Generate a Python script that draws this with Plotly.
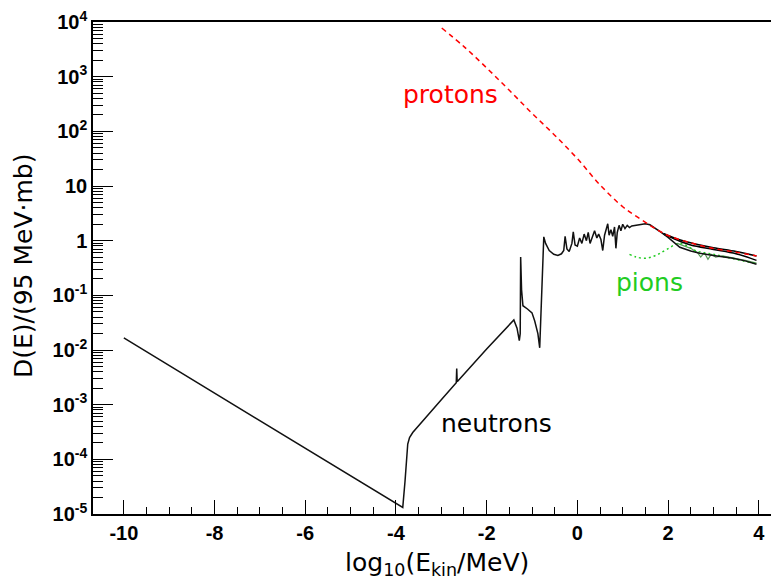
import plotly.graph_objects as go

# ---------------- data (y given as log10 values) ----------------
neutron_x = [-10.0, -3.88, -3.85, -3.80, -3.77, -3.74, -3.70, -3.63, -3.0, -2.67, -2.66, -2.65,
             -2.0, -1.6, -1.45, -1.40, -1.33, -1.28, -1.26, -1.25, -1.23, -1.20, -1.10, -1.00,
             -0.94, -0.87, -0.83, -0.78, -0.74, -0.70, -0.62, -0.52, -0.43, -0.35, -0.30, -0.27,
             -0.23, -0.18, -0.12, -0.09, -0.05, 0.00, 0.05, 0.10, 0.15, 0.20, 0.24, 0.28, 0.33,
             0.38, 0.43, 0.47, 0.52, 0.56, 0.60, 0.64, 0.67, 0.70, 0.74, 0.78, 0.82, 0.85, 0.88,
             0.92, 0.96, 1.00, 1.05, 1.10, 1.15, 1.20, 1.30, 1.40, 1.50, 1.60, 1.70, 1.85, 2.00,
             2.26, 2.50, 2.70, 3.00, 3.43, 3.70, 3.95]
neutron_log10 = [-1.78, -4.85, -4.88, -4.40, -3.95, -3.72, -3.60, -3.51, -2.91, -2.60, -2.34, -2.58,
                 -1.98, -1.62, -1.50, -1.45, -1.60, -1.83, -1.70, -0.30, -0.90, -1.19, -1.25, -1.32,
                 -1.47, -1.70, -1.96, -0.87, 0.07, -0.05, -0.18, -0.25, -0.27, -0.24, -0.18, 0.08,
                 -0.15, -0.20, -0.05, 0.16, -0.08, -0.10, 0.05, -0.05, 0.12, 0.00, 0.15, -0.05, 0.05,
                 0.18, 0.05, 0.12, 0.02, -0.18, 0.10, 0.22, 0.31, 0.10, 0.20, 0.08, 0.25, -0.14, 0.15,
                 0.28, 0.18, 0.30, 0.22, 0.28, 0.24, 0.27, 0.28, 0.30, 0.31, 0.29, 0.24, 0.15, 0.06,
                 -0.12, -0.19, -0.23, -0.27, -0.32, -0.37, -0.43]

neutron2_x = [1.90, 2.20, 2.50, 3.00, 3.50, 3.95]
neutron2_log10 = [0.12, 0.01, -0.08, -0.16, -0.24, -0.36]

neutron3_x = [1.90, 2.20, 2.60, 3.00, 3.50, 3.95]
neutron3_log10 = [0.13, 0.03, -0.06, -0.13, -0.20, -0.28]

proton_x = [-2.99, -2.5, -2.0, -1.5, -1.0, -0.5, 0.0, 0.5, 1.0, 1.27, 1.55, 1.8, 2.04, 2.5, 2.92, 3.5, 3.95]
proton_log10 = [3.89, 3.55, 3.16, 2.75, 2.33, 1.93, 1.50, 1.02, 0.62, 0.46, 0.31, 0.18, 0.08, -0.04, -0.13, -0.21, -0.28]

pion_x = [1.15, 1.30, 1.53, 1.75, 1.97, 2.26, 2.63, 3.00, 3.43, 3.95]
pion_log10 = [-0.25, -0.30, -0.32, -0.26, -0.16, -0.05, -0.19, -0.25, -0.33, -0.42]

pion2_x = [2.20, 2.50, 2.65, 2.72, 2.80, 2.88, 2.95, 3.05, 3.20, 3.40, 3.70, 3.95]
pion2_log10 = [-0.05, -0.14, -0.22, -0.30, -0.22, -0.34, -0.25, -0.30, -0.28, -0.31, -0.36, -0.41]

x_ticks = [-10, -8, -6, -4, -2, 0, 2, 4]
x_ticktext = ["-10", "-8", "-6", "-4", "-2", "0", "2", "4"]
y_decades = [-5, -4, -3, -2, -1, 0, 1, 2, 3, 4]
y_ticktext = ["10<sup>-5</sup>", "10<sup>-4</sup>", "10<sup>-3</sup>", "10<sup>-2</sup>",
              "10<sup>-1</sup>", "1", "10", "10<sup>2</sup>", "10<sup>3</sup>", "10<sup>4</sup>"]


def lin(vals):
    return [10 ** v for v in vals]


fig = go.Figure()
fig.add_trace(go.Scatter(x=pion2_x, y=lin(pion2_log10), mode="lines",
                         line=dict(color="#5a9a5a", width=1.2), hoverinfo="skip"))
fig.add_trace(go.Scatter(x=pion_x, y=lin(pion_log10), mode="lines", line_shape="spline",
                         line=dict(color="#22cc22", width=1.5, dash="2px,3px")))
fig.add_trace(go.Scatter(x=neutron2_x, y=lin(neutron2_log10), mode="lines", line_shape="spline",
                         line=dict(color="black", width=1.5)))
fig.add_trace(go.Scatter(x=neutron3_x, y=lin(neutron3_log10), mode="lines", line_shape="spline",
                         line=dict(color="black", width=1.5)))
fig.add_trace(go.Scatter(x=neutron_x, y=lin(neutron_log10), mode="lines",
                         line=dict(color="#111111", width=1.5)))
fig.add_trace(go.Scatter(x=proton_x, y=lin(proton_log10), mode="lines", line_shape="spline",
                         line=dict(color="#ff0000", width=1.5, dash="5px,4px")))

label_font = dict(family="DejaVu Sans", size=25)
fig.add_annotation(x=-2.79, y=2.67, text="protons", showarrow=False,
                   font=dict(label_font, color="#ff0000"))
fig.add_annotation(x=1.60, y=-0.76, text="pions", showarrow=False,
                   font=dict(label_font, color="#22cc22"))
fig.add_annotation(x=-1.78, y=-3.34, text="neutrons", showarrow=False,
                   font=dict(label_font, color="black"))
# axis titles placed as annotations to match the reference position
fig.add_annotation(xref="paper", yref="paper", x=-0.1032, y=0.504, xanchor="center",
                   yanchor="middle", text="D(E)/(95 MeV·mb)", textangle=-90, showarrow=False,
                   font=dict(family="DejaVu Sans", size=25, color="black"))
fig.add_annotation(xref="paper", yref="paper", x=0.507, y=-0.101, xanchor="center",
                   yanchor="middle", text="log<sub>10</sub>(E<sub>kin</sub>/MeV)", showarrow=False,
                   font=dict(family="DejaVu Sans", size=25, color="black"))

x_minor = [v + 0.5 * k for v in x_ticks for k in (1, 2, 3)]
y_minor = [m * 10 ** d for d in y_decades[:-1] for m in range(2, 10)]

tickfont = dict(family="Liberation Sans", size=20, color="black")

fig.update_layout(
    width=779, height=583,
    margin=dict(l=93, r=8, t=20, b=69),
    paper_bgcolor="white", plot_bgcolor="white",
    showlegend=False,
    xaxis=dict(
        range=[-10.68, 4.27], tickmode="array", tickvals=x_ticks,
        ticktext=["<b>%s</b>" % t for t in x_ticktext],
        ticks="inside", ticklen=14, tickwidth=1.2, tickcolor="black",
        showline=True, linecolor="black", linewidth=1.5, mirror=True,
        showgrid=False, zeroline=False, tickfont=tickfont,
        minor=dict(tickvals=x_minor, ticks="inside", ticklen=7, tickwidth=1.2,
                   tickcolor="black", showgrid=False),
    ),
    yaxis=dict(
        type="log", range=[-5, 4], tickmode="array",
        tickvals=[10 ** d for d in y_decades],
        ticktext=["<b>%s</b>" % t for t in y_ticktext],
        ticks="inside", ticklen=20, tickwidth=1.2, tickcolor="black",
        showline=True, linecolor="black", linewidth=1.5, mirror=False,
        showgrid=False, zeroline=False, tickfont=tickfont,
        minor=dict(tickvals=y_minor, ticks="inside", ticklen=10, tickwidth=1.2,
                   tickcolor="black", showgrid=False),
    ),
)

fig.write_html("out.html")
